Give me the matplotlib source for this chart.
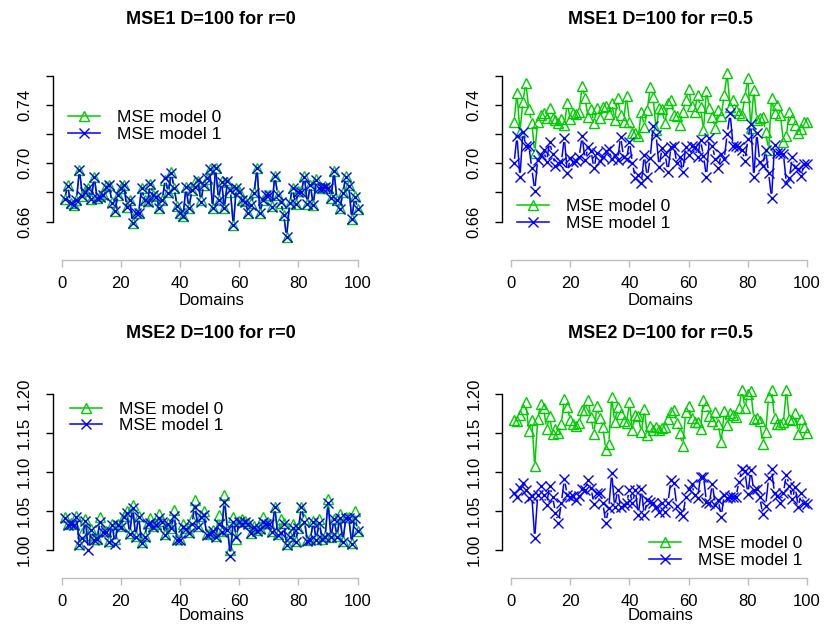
import numpy as np
import matplotlib
matplotlib.use('Agg')
import matplotlib.pyplot as plt
from matplotlib.collections import LineCollection
from matplotlib.lines import Line2D

plt.rcParams['font.family'] = ['Liberation Sans', 'DejaVu Sans']

domains = list(range(1, 101))

titles = ["MSE1 D=100 for r=0", "MSE1 D=100 for r=0.5",
          "MSE2 D=100 for r=0", "MSE2 D=100 for r=0.5"]
legend_labels = ["MSE model 0", "MSE model 1"]
x_label = "Domains"

# ---- MSE1, r=0 ----
mse1_r0_model1 = [
    0.6753, 0.6845, 0.6730, 0.6714, 0.6749, 0.6954, 0.6776, 0.6806, 0.6829, 0.6753,
    0.6904, 0.6760, 0.6771, 0.6783, 0.6840, 0.6851, 0.6730, 0.6669, 0.6783, 0.6829,
    0.6851, 0.6703, 0.6749, 0.6589, 0.6657, 0.6657, 0.6829, 0.6749, 0.6737, 0.6858,
    0.6783, 0.6771, 0.6691, 0.6749, 0.6897, 0.6794, 0.6936, 0.6829, 0.6707, 0.6657,
    0.6639, 0.6835, 0.6691, 0.6817, 0.6840, 0.6886, 0.6737, 0.6851, 0.6897, 0.6959,
    0.6691, 0.6966, 0.6749, 0.6874, 0.6691, 0.6881, 0.6817, 0.6573, 0.6829, 0.6806,
    0.6749, 0.6737, 0.6657, 0.6714, 0.6794, 0.6966, 0.6657, 0.6749, 0.6783, 0.6783,
    0.6703, 0.6913, 0.6783, 0.6737, 0.6646, 0.6493, 0.6726, 0.6829, 0.6721, 0.6806,
    0.6806, 0.6909, 0.6721, 0.6851, 0.6714, 0.6886, 0.6833, 0.6829, 0.6840, 0.6829,
    0.6760, 0.6947, 0.6749, 0.6685, 0.6794, 0.6909, 0.6845, 0.6616, 0.6771, 0.6685]
mse1_r0_model0 = [
    0.6755, 0.6851, 0.6730, 0.6712, 0.6750, 0.6956, 0.6778, 0.6808, 0.6829, 0.6755,
    0.6906, 0.6760, 0.6773, 0.6790, 0.6845, 0.6853, 0.6732, 0.6669, 0.6785, 0.6831,
    0.6853, 0.6703, 0.6751, 0.6589, 0.6659, 0.6659, 0.6831, 0.6749, 0.6739, 0.6860,
    0.6785, 0.6773, 0.6691, 0.6751, 0.6885, 0.6800, 0.6938, 0.6831, 0.6709, 0.6659,
    0.6641, 0.6837, 0.6693, 0.6819, 0.6874, 0.6880, 0.6745, 0.6853, 0.6890, 0.6961,
    0.6693, 0.6968, 0.6751, 0.6876, 0.6693, 0.6870, 0.6800, 0.6575, 0.6831, 0.6808,
    0.6751, 0.6739, 0.6659, 0.6725, 0.6800, 0.6968, 0.6659, 0.6751, 0.6785, 0.6785,
    0.6705, 0.6915, 0.6785, 0.6730, 0.6648, 0.6495, 0.6728, 0.6831, 0.6723, 0.6808,
    0.6808, 0.6911, 0.6723, 0.6853, 0.6716, 0.6895, 0.6835, 0.6831, 0.6842, 0.6831,
    0.6762, 0.6949, 0.6751, 0.6690, 0.6800, 0.6911, 0.6851, 0.6618, 0.6773, 0.6687]

# ---- MSE1, r=0.5 ----
mse1_r05_model0 = [
    0.7286, 0.7480, 0.7217, 0.7423, 0.7553, 0.7370, 0.7279, 0.7073, 0.7286, 0.7331,
    0.7347, 0.7309, 0.7377, 0.7309, 0.7297, 0.7279, 0.7302, 0.7263, 0.7411, 0.7302,
    0.7347, 0.7338, 0.7354, 0.7530, 0.7446, 0.7320, 0.7370, 0.7279, 0.7377, 0.7309,
    0.7389, 0.7393, 0.7338, 0.7416, 0.7297, 0.7446, 0.7331, 0.7286, 0.7462, 0.7286,
    0.7210, 0.7210, 0.7187, 0.7354, 0.7251, 0.7366, 0.7521, 0.7453, 0.7229, 0.7377,
    0.7370, 0.7274, 0.7411, 0.7434, 0.7331, 0.7325, 0.7263, 0.7354, 0.7434, 0.7507,
    0.7393, 0.7354, 0.7469, 0.7384, 0.7229, 0.7498, 0.7377, 0.7320, 0.7240, 0.7366,
    0.7325, 0.7469, 0.7617, 0.7389, 0.7434, 0.7366, 0.7343, 0.7331, 0.7457, 0.7583,
    0.7240, 0.7503, 0.7297, 0.7309, 0.7315, 0.7217, 0.7091, 0.7446, 0.7343, 0.7400,
    0.7331, 0.7149, 0.7187, 0.7354, 0.7302, 0.7263, 0.7206, 0.7233, 0.7286, 0.7286]
mse1_r05_model1 = [
    0.7000, 0.7187, 0.6904, 0.7217, 0.7119, 0.7119, 0.6966, 0.6813, 0.7023, 0.7057,
    0.7091, 0.7011, 0.7149, 0.7062, 0.6982, 0.7000, 0.7011, 0.7176, 0.6936, 0.7034,
    0.7011, 0.7018, 0.7041, 0.7187, 0.7023, 0.7110, 0.7087, 0.6966, 0.7073, 0.7018,
    0.7046, 0.7087, 0.7096, 0.7027, 0.7057, 0.7023, 0.7183, 0.7046, 0.7027, 0.7149,
    0.7000, 0.6897, 0.6920, 0.6867, 0.7057, 0.6904, 0.7034, 0.7256, 0.7194, 0.6977,
    0.7103, 0.7064, 0.6943, 0.7110, 0.7119, 0.7000, 0.7046, 0.6943, 0.7114, 0.7057,
    0.7119, 0.7110, 0.7041, 0.7160, 0.7050, 0.6909, 0.7171, 0.7119, 0.7027, 0.6966,
    0.7064, 0.7027, 0.7201, 0.7343, 0.7119, 0.7119, 0.7110, 0.7091, 0.7018, 0.7165,
    0.7270, 0.6904, 0.7210, 0.7011, 0.6982, 0.7091, 0.6936, 0.6760, 0.7126, 0.7069,
    0.7073, 0.7064, 0.6863, 0.6897, 0.7041, 0.6977, 0.6959, 0.6913, 0.6995, 0.6995]

# ---- MSE2, r=0 ----
mse2_r0_model1 = [
    1.0410, 1.0325, 1.0338, 1.0325, 1.0432, 1.0068, 1.0154, 1.0380, 1.0004, 1.0261,
    1.0132, 1.0141, 1.0368, 1.0239, 1.0239, 1.0111, 1.0325, 1.0081, 1.0325, 1.0303,
    1.0432, 1.0474, 1.0209, 1.0538, 1.0175, 1.0432, 1.0098, 1.0175, 1.0338, 1.0346,
    1.0303, 1.0325, 1.0410, 1.0368, 1.0197, 1.0338, 1.0282, 1.0440, 1.0132, 1.0132,
    1.0303, 1.0269, 1.0226, 1.0338, 1.0560, 1.0303, 1.0432, 1.0453, 1.0197, 1.0209,
    1.0252, 1.0175, 1.0338, 1.0239, 1.0624, 1.0261, 0.9927, 1.0368, 1.0175, 1.0368,
    1.0338, 1.0368, 1.0338, 1.0218, 1.0303, 1.0252, 1.0269, 1.0368, 1.0338, 1.0338,
    1.0239, 1.0551, 1.0197, 1.0218, 1.0338, 1.0068, 1.0175, 1.0282, 1.0111, 1.0282,
    1.0551, 1.0368, 1.0124, 1.0132, 1.0368, 1.0132, 1.0346, 1.0141, 1.0175, 1.0603,
    1.0167, 1.0397, 1.0175, 1.0410, 1.0111, 1.0410, 1.0410, 1.0081, 1.0410, 1.0252]
mse2_r0_model0 = [
    1.0430, 1.0330, 1.0345, 1.0330, 1.0440, 1.0075, 1.0220, 1.0395, 1.0200, 1.0275,
    1.0140, 1.0150, 1.0420, 1.0250, 1.0245, 1.0120, 1.0340, 1.0150, 1.0335, 1.0310,
    1.0440, 1.0500, 1.0215, 1.0580, 1.0180, 1.0440, 1.0105, 1.0185, 1.0350, 1.0410,
    1.0310, 1.0335, 1.0460, 1.0375, 1.0210, 1.0345, 1.0290, 1.0510, 1.0140, 1.0140,
    1.0340, 1.0280, 1.0235, 1.0400, 1.0640, 1.0310, 1.0440, 1.0500, 1.0205, 1.0220,
    1.0260, 1.0185, 1.0450, 1.0245, 1.0710, 1.0270, 1.0000, 1.0430, 1.0140, 1.0375,
    1.0400, 1.0375, 1.0345, 1.0225, 1.0310, 1.0260, 1.0280, 1.0420, 1.0345, 1.0345,
    1.0250, 1.0560, 1.0205, 1.0400, 1.0345, 1.0080, 1.0185, 1.0330, 1.0120, 1.0290,
    1.0560, 1.0400, 1.0135, 1.0140, 1.0375, 1.0140, 1.0400, 1.0150, 1.0185, 1.0650,
    1.0175, 1.0405, 1.0185, 1.0470, 1.0120, 1.0420, 1.0420, 1.0090, 1.0500, 1.0250]

# ---- MSE2, r=0.5 ----
mse2_r05_model0 = [
    1.1662, 1.1650, 1.1735, 1.1808, 1.1893, 1.1521, 1.1671, 1.1073, 1.1679, 1.1876,
    1.1821, 1.1551, 1.1714, 1.1491, 1.1551, 1.1500, 1.1620, 1.1936, 1.1833, 1.1662,
    1.1620, 1.1594, 1.1628, 1.1791, 1.1791, 1.1919, 1.1705, 1.1491, 1.1842, 1.1692,
    1.1577, 1.1286, 1.1363, 1.1962, 1.1637, 1.1833, 1.1748, 1.1650, 1.1628, 1.1893,
    1.1543, 1.1735, 1.1714, 1.1509, 1.1808, 1.1479, 1.1594, 1.1534, 1.1577, 1.1543,
    1.1564, 1.1577, 1.1679, 1.1765, 1.1791, 1.1628, 1.1500, 1.1338, 1.1765, 1.1850,
    1.1692, 1.1637, 1.1637, 1.1551, 1.1919, 1.1850, 1.1714, 1.1650, 1.1765, 1.1620,
    1.1380, 1.1778, 1.1607, 1.1756, 1.1735, 1.1705, 1.1821, 1.2056, 1.1821, 1.2004,
    1.2034, 1.1679, 1.1692, 1.1650, 1.1363, 1.1509, 1.1962, 1.2056, 1.1692, 1.1620,
    1.1620, 1.1637, 1.2056, 1.1679, 1.1671, 1.1756, 1.1491, 1.1679, 1.1577, 1.1500]
mse2_r05_model1 = [
    1.0739, 1.0688, 1.0795, 1.0859, 1.0774, 1.0667, 1.0697, 1.0154, 1.0709, 1.0825,
    1.0709, 1.0581, 1.0825, 1.0688, 1.0483, 1.0355, 1.0611, 1.0910, 1.0709, 1.0679,
    1.0697, 1.0637, 1.0697, 1.0782, 1.0765, 1.0902, 1.0795, 1.0594, 1.0731, 1.0739,
    1.0603, 1.0355, 1.0538, 1.0987, 1.0551, 1.0774, 1.0551, 1.0581, 1.0611, 1.0765,
    1.0603, 1.0765, 1.0453, 1.0782, 1.0453, 1.0637, 1.0624, 1.0611, 1.0560, 1.0496,
    1.0611, 1.0496, 1.0611, 1.0893, 1.0859, 1.0568, 1.0483, 1.0440, 1.0679, 1.0782,
    1.0850, 1.0709, 1.0667, 1.0936, 1.0944, 1.0624, 1.0611, 1.0850, 1.0581, 1.0645,
    1.0432, 1.0709, 1.0667, 1.0688, 1.0688, 1.0688, 1.0880, 1.1038, 1.1009, 1.0722,
    1.1021, 1.0765, 1.0782, 1.0679, 1.0466, 1.0568, 1.0923, 1.1038, 1.0731, 1.0697,
    1.0611, 1.0739, 1.0966, 1.0825, 1.0654, 1.0808, 1.0551, 1.0731, 1.0611, 1.0594]

mse1_yticks = [0.66, 0.68, 0.70, 0.72, 0.74, 0.76]
mse1_yticklabels = ["0.66", "", "0.70", "", "0.74", ""]
mse2_yticks = [1.00, 1.05, 1.10, 1.15, 1.20]
mse2_yticklabels = ["1.00", "1.05", "1.10", "1.15", "1.20"]
xticks = [0, 20, 40, 60, 80, 100]

GREEN = "#00CD00"
BLUE = "#0000FF"
AXGREY = "#BEBEBE"

W, H = 824, 627
fig = plt.figure(figsize=(W / 100, H / 100), dpi=100)

panels = [
    dict(series=(mse1_r0_model0, mse1_r0_model1), title=titles[0],
         box=(52.9, 369.4, 68.0, 260.0), ylim=(0.6336, 0.7654),
         yticks=mse1_yticks, ylabels=mse1_yticklabels,
         title_y=20, xlab_y=300, leg=(68, 110)),
    dict(series=(mse1_r05_model0, mse1_r05_model1), title=titles[1],
         box=(502.3, 818.8, 68.0, 260.0), ylim=(0.6336, 0.7654),
         yticks=mse1_yticks, ylabels=mse1_yticklabels,
         title_y=20, xlab_y=300, leg=(517, 199)),
    dict(series=(mse2_r0_model0, mse2_r0_model1), title=titles[2],
         box=(52.9, 369.4, 383.0, 578.3), ylim=(0.9641, 1.2141),
         yticks=mse2_yticks, ylabels=mse2_yticklabels,
         title_y=333, xlab_y=616, leg=(70, 401.5)),
    dict(series=(mse2_r05_model0, mse2_r05_model1), title=titles[3],
         box=(502.3, 818.8, 383.0, 578.3), ylim=(0.9641, 1.2141),
         yticks=mse2_yticks, ylabels=mse2_yticklabels,
         title_y=333, xlab_y=616, leg=(649, 536)),
]


def gapped(ax, x, y, color, gap=4.5, lw=1.1):
    pts = ax.transData.transform(np.column_stack([x, y]))
    inv = ax.transData.inverted()
    segs = []
    for p, q in zip(pts[:-1], pts[1:]):
        d = q - p
        L = np.hypot(d[0], d[1])
        if L > 2 * gap:
            u = d / L
            segs.append(inv.transform(np.array([p + u * gap, q - u * gap])))
    ax.add_collection(LineCollection(segs, colors=color, linewidths=lw))


for P in panels:
    x0, x1, y0, y1 = P["box"]
    ax = fig.add_axes([x0 / W, 1 - y1 / H, (x1 - x0) / W, (y1 - y0) / H])
    ax.set_xlim(-2.96, 103.96)
    ax.set_ylim(*P["ylim"])
    ax.patch.set_visible(False)
    for s in ("top", "right"):
        ax.spines[s].set_visible(False)
    ax.spines["left"].set_bounds(P["yticks"][0], P["yticks"][-1])
    ax.spines["left"].set_linewidth(1.0)
    ax.spines["bottom"].set_bounds(0, 100)
    ax.spines["bottom"].set_color(AXGREY)
    ax.spines["bottom"].set_linewidth(1.0)
    ax.set_yticks(P["yticks"])
    ax.set_yticklabels(P["ylabels"], rotation=90, va="center", fontsize=12)
    ax.set_xticks(xticks)
    ax.set_xticklabels([str(t) for t in xticks], fontsize=12)
    ax.tick_params(axis="y", direction="out", length=5, width=1.0, pad=10)
    ax.tick_params(axis="x", direction="out", length=5, width=1.0, pad=6.5,
                   color=AXGREY, labelcolor="black")

    m0, m1 = P["series"]
    gapped(ax, domains, m0, GREEN)
    ax.plot(domains, m0, linestyle="none", marker="^", ms=7.5, mfc="none",
            mec=GREEN, mew=1.0)
    gapped(ax, domains, m1, BLUE)
    ax.plot(domains, m1, linestyle="none", marker="x", ms=6.5, mec=BLUE, mew=1.0)

    cx = (x0 + x1) / 2
    fig.text(cx / W, 1 - P["title_y"] / H, P["title"], ha="center", va="center",
             fontsize=13, fontweight="bold")
    fig.text(cx / W, 1 - P["xlab_y"] / H, x_label, ha="center", va="center",
             fontsize=12)

    handles = [
        Line2D([], [], color=GREEN, lw=1.1, marker="^", ms=7.5, mfc="none", mec=GREEN),
        Line2D([], [], color=BLUE, lw=1.1, marker="x", ms=6.5, mec=BLUE),
    ]
    lx, ly = P["leg"]
    ax.legend(handles, legend_labels, loc="upper left",
              bbox_to_anchor=(lx / W, 1 - ly / H), bbox_transform=fig.transFigure,
              frameon=False, borderpad=0, borderaxespad=0, fontsize=12.5,
              handlelength=1.85, handletextpad=1.0, labelspacing=0.08)

fig.savefig("out.png", dpi=100)
